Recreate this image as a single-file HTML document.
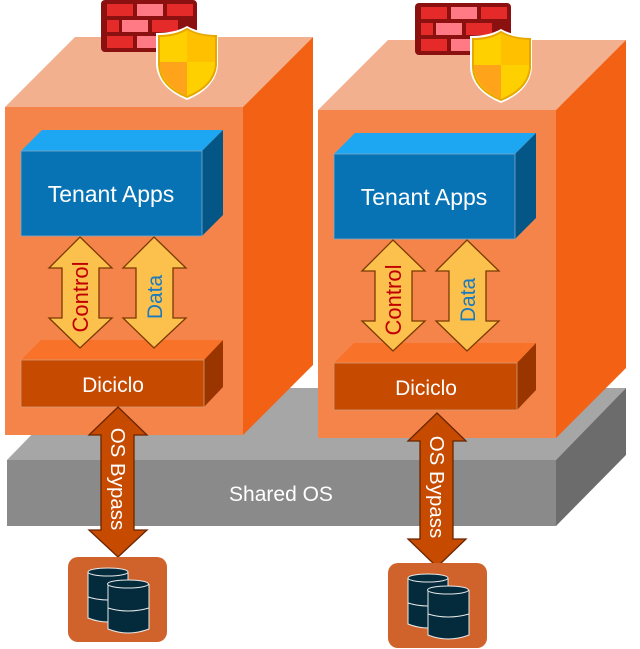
<!DOCTYPE html>
<html><head><meta charset="utf-8"><style>
html,body{margin:0;padding:0;background:#fff;width:640px;height:649px;overflow:hidden}
svg{display:block}
text{font-family:"Liberation Sans",sans-serif}
</style></head><body>
<svg width="640" height="649" viewBox="0 0 640 649" xmlns="http://www.w3.org/2000/svg">
<defs>
<g id="box">
  <polygon points="5,107 75,37 313,37 243,107" fill="#f2b08f"/>
  <polygon points="243,107 313,37 313,365 243,435" fill="#f26114"/>
  <rect x="5" y="107" width="238" height="328" fill="#f4844a"/>
  <!-- tenant apps -->
  <polygon points="21,151 42,130 223,130 202,151" fill="#1da6f2"/>
  <polygon points="202,151 223,130 223,215 202,236" fill="#045686"/>
  <rect x="21" y="151" width="181" height="85" fill="#0873b4" stroke="#7fa9c6" stroke-width="0.8"/>
  <text x="111" y="202" font-size="23" fill="#fff" text-anchor="middle">Tenant Apps</text>
  <!-- diciclo -->
  <polygon points="21,360 41,340 223,340 204,360" fill="#f87329"/>
  <polygon points="204,360 223,340 223,387 204,407" fill="#9a3500"/>
  <rect x="21" y="360" width="183" height="47" fill="#c64a00" stroke="#d89a78" stroke-width="0.8"/>
  <text x="113" y="392" font-size="21" fill="#fff" text-anchor="middle">Diciclo</text>
  <!-- arrows -->
  <polygon points="80,237 112,268 99,268 99,318 112,318 80,348 49,318 62,318 62,268 49,268" fill="#fcc04c" stroke="#7a3a00" stroke-width="1.3"/>
  <polygon points="154,237 186,268 173,268 173,318 186,318 154,348 123,318 136,318 136,268 123,268" fill="#fcc04c" stroke="#7a3a00" stroke-width="1.3"/>
  <text transform="translate(88,297) rotate(-90)" font-size="22" fill="#c00000" text-anchor="middle">Control</text>
  <text transform="translate(162,297) rotate(-90)" font-size="21" fill="#1a7abf" text-anchor="middle">Data</text>
</g>
<g id="fw">
  <rect x="101" y="0" width="96" height="52" rx="4" fill="#8b1010"/>
  <rect x="107" y="4" width="26" height="12" fill="#e52a2a"/>
  <rect x="137" y="4" width="26" height="12" fill="#ff7a85"/>
  <rect x="167" y="4" width="26" height="12" fill="#e52a2a"/>
  <rect x="107" y="20" width="12" height="12" fill="#e52a2a"/>
  <rect x="122" y="20" width="26" height="12" fill="#ff7a85"/>
  <rect x="152" y="20" width="26" height="12" fill="#e52a2a"/>
  <rect x="107" y="36" width="26" height="12" fill="#e52a2a"/>
  <rect x="137" y="36" width="26" height="12" fill="#ff7a85"/>
  <path d="M156,33 Q175,33 187,26 Q199,33 218,33 L218,65 Q216,88 187,100 Q158,88 156,65 Z" fill="#fff"/>
  <path d="M159,36 Q176,36 187,29 Q198,36 216,36 L216,65 Q214,86 187,97 Q160,86 159,65 Z" fill="#ffd000" stroke="#e6a800" stroke-width="2"/>
  <path d="M160,62 L187,62 L187,96 Q162,85 160,65 Z" fill="#ffa31a"/>
  <path d="M187,30 Q198,36 215,37 L215,62 L187,62 Z" fill="#ffc000"/>
</g>
<g id="db">
  <rect x="68" y="557" width="99" height="85" rx="10" fill="#d0622b"/>
  <path d="M88,572 L88,618 Q108,626 128,618 L128,572" fill="#032b3c" stroke="#e9e9e9" stroke-width="1"/>
  <ellipse cx="108" cy="572" rx="20" ry="4" fill="#032b3c" stroke="#e9e9e9" stroke-width="1"/>
  <path d="M88,597 Q108,603 128,597" fill="none" stroke="#e9e9e9" stroke-width="1"/>
  <path d="M108,584 L108,629 Q128,637 149,629 L149,584" fill="#032b3c" stroke="#e9e9e9" stroke-width="1"/>
  <ellipse cx="128" cy="584" rx="20.5" ry="4" fill="#032b3c" stroke="#e9e9e9" stroke-width="1"/>
  <path d="M108,608 Q128,614 149,608" fill="none" stroke="#e9e9e9" stroke-width="1"/>
</g>
</defs>

<!-- shared OS -->
<polygon points="7,460 77,388 626,388 556,460" fill="#a6a6a6"/>
<polygon points="556,460 626,388 626,455 556,526" fill="#6c6c6c"/>
<rect x="7" y="460" width="549" height="66" fill="#8a8a8a"/>
<text x="281" y="501" font-size="21" fill="#fff" text-anchor="middle">Shared OS</text>

<use href="#box"/>
<use href="#box" transform="translate(313,3)"/>
<use href="#fw"/>
<use href="#fw" transform="translate(314,3)"/>

<!-- OS bypass -->
<polygon points="118,407 147,435 134,435 134,530 147,530 118,557 89,530 101,530 101,435 89,435" fill="#c64a00" stroke="#6a2500" stroke-width="1.3"/>
<text transform="translate(111,479) rotate(90)" font-size="20.5" fill="#fff" text-anchor="middle">OS Bypass</text>
<polygon points="437,413 466,441 453,441 453,539 466,539 437,567 408,539 420,539 420,441 408,441" fill="#c64a00" stroke="#6a2500" stroke-width="1.3"/>
<text transform="translate(430,487) rotate(90)" font-size="20.5" fill="#fff" text-anchor="middle">OS Bypass</text>

<use href="#db"/>
<use href="#db" transform="translate(320,6)"/>
</svg>
</body></html>
